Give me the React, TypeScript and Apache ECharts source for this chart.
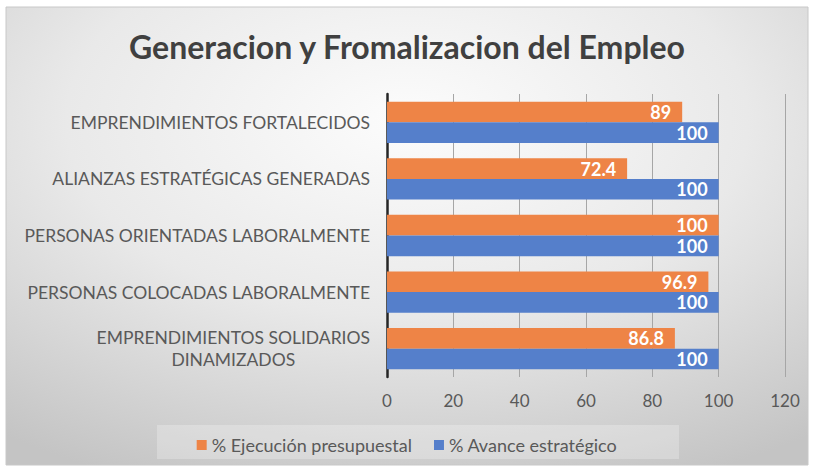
import React, { useEffect, useRef } from "react";
import * as echarts from "echarts";

const title = "Generacion y Fromalizacion del Empleo";
const categories = [
  "EMPRENDIMIENTOS FORTALECIDOS",
  "ALIANZAS ESTRATÉGICAS GENERADAS",
  "PERSONAS ORIENTADAS LABORALMENTE",
  "PERSONAS COLOCADAS LABORALMENTE",
  "EMPRENDIMIENTOS SOLIDARIOS\nDINAMIZADOS",
];
const seriesNames = ["% Ejecución presupuestal", "% Avance estratégico"];
const ejecucion = [89, 72.4, 100, 96.9, 86.8];
const avance = [100, 100, 100, 100, 100];
const axisMin = 0;
const axisMax = 120;
const axisStep = 20;

const FONT = "Lato";

export default function App() {
  const ref = useRef<HTMLDivElement>(null);
  useEffect(() => {
    if (!ref.current) return;
    const chart = echarts.init(ref.current, null, { renderer: "svg" });
    const labelStyle = {
      show: true,
      position: "insideRight",
      distance: 11,
      color: "#ffffff",
      fontFamily: FONT,
      fontWeight: "bold",
      fontSize: 18,
    };
    chart.setOption({
      animation: false,
      backgroundColor: "#ffffff",
      textStyle: { fontFamily: FONT },
      graphic: [
        {
          type: "rect",
          z: -10,
          silent: true,
          shape: { x: 6, y: 7, width: 802, height: 458 },
          style: {
            fill: new echarts.graphic.RadialGradient(0.5, 0.25, 0.85, [
              { offset: 0, color: "#fcfcfc" },
              { offset: 0.5, color: "#e9e9e9" },
              { offset: 1, color: "#c4c4c4" },
            ]),
            stroke: "#c8c8c8",
            lineWidth: 1,
          },
        },
        {
          type: "rect",
          z: -5,
          silent: true,
          shape: { x: 157, y: 425, width: 522, height: 34 },
          style: { fill: "rgba(255,255,255,0.25)" },
        },
      ],
      title: {
        text: title,
        left: "center",
        top: 25,
        textStyle: {
          fontFamily: FONT,
          fontSize: 32,
          fontWeight: "bold",
          color: "#404040",
        },
      },
      legend: {
        data: seriesNames,
        top: 431,
        left: "center",
        itemWidth: 10,
        itemHeight: 10,
        itemGap: 22,
        icon: "rect",
        textStyle: { fontFamily: FONT, fontSize: 18, color: "#595959" },
      },
      grid: { left: 387, right: 29, top: 94, bottom: 97, containLabel: false },
      xAxis: {
        type: "value",
        min: axisMin,
        max: axisMax,
        interval: axisStep,
        axisLine: { show: false },
        axisTick: { show: false },
        splitLine: { show: true, lineStyle: { color: "#a6a6a6", width: 1 } },
        axisLabel: {
          fontFamily: FONT,
          fontSize: 17,
          color: "#595959",
          margin: 15,
        },
      },
      yAxis: {
        type: "category",
        data: categories,
        inverse: true,
        axisLine: { show: true, lineStyle: { color: "#262626", width: 2.5 } },
        axisTick: { show: false },
        axisLabel: {
          margin: 17,
          fontFamily: FONT,
          fontSize: 17.5,
          color: "#595959",
          lineHeight: 22,
          formatter: (v: string) =>
            v
              .split("\n")
              .map((s) => "{c|" + s + "}")
              .join("\n"),
          rich: {
            c: {
              align: "center",
              fontFamily: FONT,
              fontSize: 17.5,
              color: "#595959",
              lineHeight: 22,
            },
          },
        },
      },
      series: [
        {
          name: seriesNames[0],
          type: "bar",
          data: ejecucion,
          barGap: "0%",
          barCategoryGap: "27%",
          itemStyle: { color: "#ee8446" },
          label: labelStyle,
        },
        {
          name: seriesNames[1],
          type: "bar",
          data: avance,
          barGap: "0%",
          barCategoryGap: "27%",
          itemStyle: { color: "#557fcb" },
          label: labelStyle,
        },
      ],
    });
    return () => chart.dispose();
  }, []);
  return (
    <div
      ref={ref}
      style={{ position: "fixed", left: 0, top: 0, width: 814, height: 474 }}
    />
  );
}
